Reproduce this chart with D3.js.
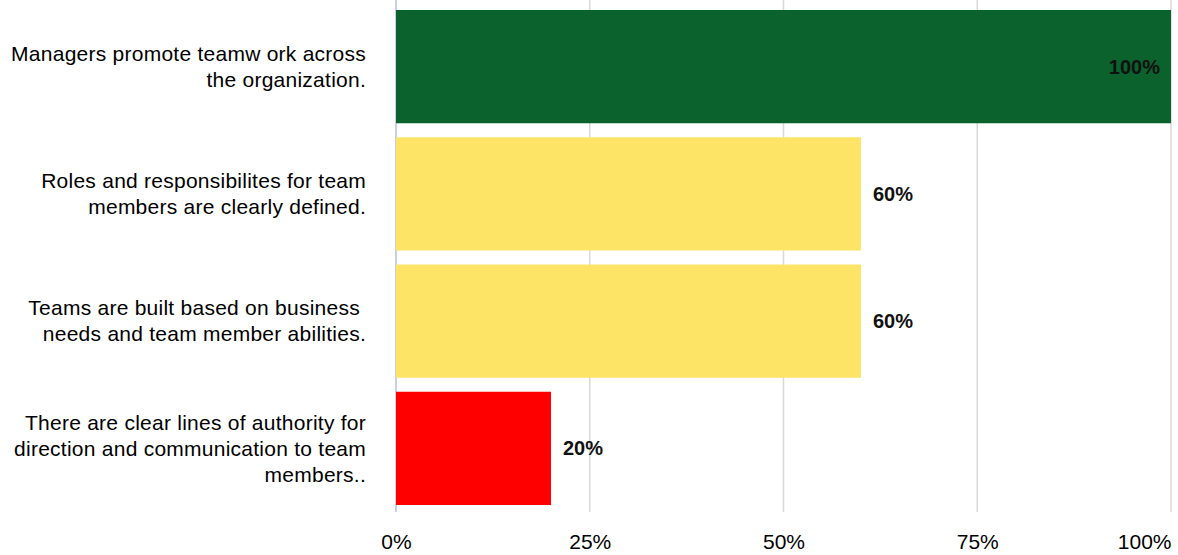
<!DOCTYPE html>
<html><head><meta charset="utf-8">
<script src="https://cdn.jsdelivr.net/npm/d3@7"></script>
<style>body{margin:0;background:#fff}svg{display:block}text{font-family:"Liberation Sans",Arial,sans-serif}</style>
</head><body><svg id="c" width="1178" height="555"></svg>
<script>
const categories = [
  ["Managers promote teamw ork across", "the organization."],
  ["Roles and responsibilites for team", "members are clearly defined."],
  ["Teams are built based on business ", "needs and team member abilities."],
  ["There are clear lines of authority for", "direction and communication to team", "members.."]
];
const values = [100, 60, 60, 20];
const barColors = ["#0b622d", "#fde467", "#fde467", "#ff0000"];
const tickValues = [0, 25, 50, 75, 100];
const tickLabels = ["0%", "25%", "50%", "75%", "100%"];

const svg = d3.select("#c");
const x = d3.scaleLinear().domain([0, 100]).range([396, 1171]);
const y = d3.scaleBand().domain(d3.range(categories.length)).range([3, 512]).paddingInner(0.11).paddingOuter(0.055);

// gridlines
svg.append("g").selectAll("line").data(tickValues.slice(1)).join("line")
  .attr("x1", d => x(d)).attr("x2", d => x(d)).attr("y1", 0).attr("y2", 512)
  .attr("stroke", "#d9d9d9").attr("stroke-width", 1.5);
svg.append("line").attr("x1", x(0)).attr("x2", x(0)).attr("y1", 0).attr("y2", 512)
  .attr("stroke", "#c9d0e6").attr("stroke-width", 2);

// bars
svg.append("g").selectAll("rect").data(values).join("rect")
  .attr("x", x(0)).attr("y", (d, i) => y(i))
  .attr("width", d => x(d) - x(0)).attr("height", y.bandwidth())
  .attr("fill", (d, i) => barColors[i]);

// value labels
svg.append("g").selectAll("text").data(values).join("text")
  .attr("x", d => d >= 100 ? x(d) - 11 : x(d) + 12)
  .attr("y", (d, i) => y(i) + y.bandwidth() / 2)
  .attr("dy", "0.35em")
  .attr("text-anchor", d => d >= 100 ? "end" : "start")
  .attr("font-size", 20).attr("font-weight", "bold").attr("fill", "#111")
  .text(d => d + "%");

// category labels
const lh = 26;
const cg = svg.append("g");
categories.forEach((lines, i) => {
  const cy = y(i) + y.bandwidth() / 2;
  const t = cg.append("text").attr("text-anchor", "end").attr("font-size", 21).attr("fill", "#000")
    .attr("letter-spacing", "0.25px").attr("xml:space", "preserve");
  lines.forEach((l, j) => {
    t.append("tspan").attr("x", 366)
      .attr("y", cy + (j - (lines.length - 1) / 2) * lh)
      .attr("dy", "0.35em").text(l);
  });
});

// x axis labels
const ax = d3.axisBottom(x).tickValues(tickValues).tickFormat((d, i) => tickLabels[i]).tickSize(0).tickPadding(0);
const ag = svg.append("g").attr("transform", "translate(0,534)").call(ax);
ag.select(".domain").remove();
ag.selectAll("text").attr("font-size", 21).attr("fill", "#000").attr("font-family", "Liberation Sans, Arial, sans-serif");
ag.selectAll(".tick").filter(d => d === 100).select("text").attr("text-anchor", "end");
</script></body></html>
